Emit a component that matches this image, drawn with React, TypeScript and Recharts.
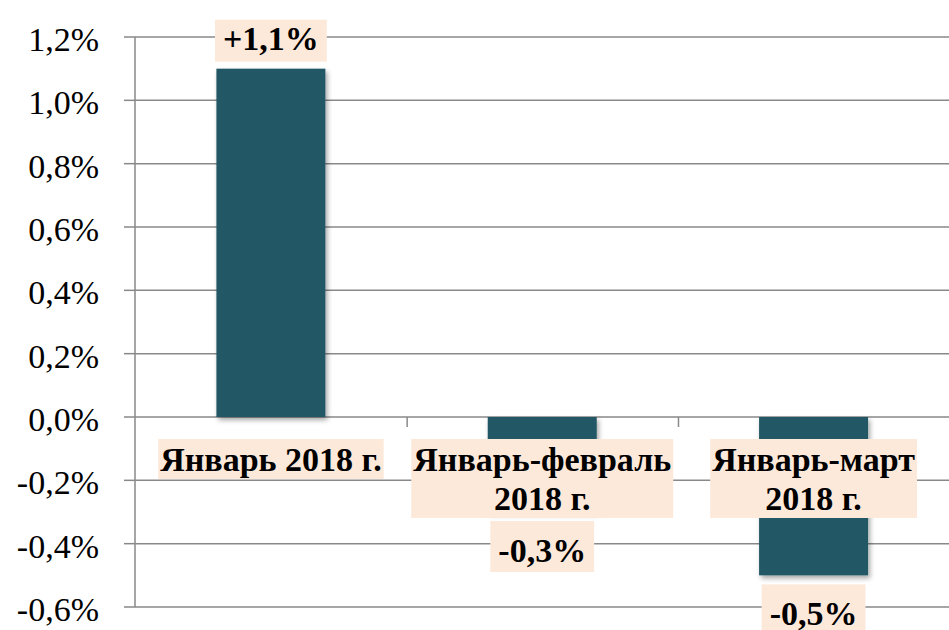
import React from 'react';
import { BarChart, Bar, XAxis, YAxis, CartesianGrid, LabelList } from 'recharts';

const categories = ['Январь 2018 г.', 'Январь-февраль 2018 г.', 'Январь-март 2018 г.'];
const categoryLines = [['Январь 2018 г.'], ['Январь-февраль', '2018 г.'], ['Январь-март', '2018 г.']];
const values = [1.1, -0.3, -0.5];
const valueLabels = ['+1,1%', '-0,3%', '-0,5%'];
const yTicks = [-0.6, -0.4, -0.2, 0, 0.2, 0.4, 0.6, 0.8, 1.0, 1.2];

const data = categories.map((name, i) => ({ name, value: values[i] }));

const FONT = "'Times New Roman', Times, 'Liberation Serif', Tinos, 'Nimbus Roman', 'Nimbus Roman No9 L', 'FreeSerif', 'Noto Serif', 'DejaVu Serif', 'Noto Serif CJK SC', 'Source Han Serif', serif";
const BOLD_SIZE = 34;
const TICK_SIZE = 34;
const BAR_COLOR = '#235966';
const BOX_COLOR = '#FDE9DA';
const GRID_COLOR = '#898989';
const GAP = 0.3;

let ctx: CanvasRenderingContext2D | null = null;
function measure(text: string, font: string): number {
  if (!ctx) ctx = document.createElement('canvas').getContext('2d');
  if (!ctx) return text.length * 18;
  ctx.font = font;
  return ctx.measureText(text).width;
}

const fmt = (v: number) => v.toFixed(1).replace('.', ',') + '%';

function BarShape(props: any) {
  const { x, y, width, height } = props;
  const top = Math.min(y, y + height);
  const h = Math.abs(height);
  return (
    <g>
      <defs>
        <filter id="barShadow" x="-20%" y="-20%" width="140%" height="140%">
          <feDropShadow dx="2" dy="3" stdDeviation="2.5" floodColor="#000" floodOpacity="0.35" />
        </filter>
      </defs>
      <rect x={x} y={top} width={width} height={h} fill={BAR_COLOR} filter="url(#barShadow)" />
    </g>
  );
}

function LabelContent(props: any) {
  const vb = props.viewBox && props.viewBox.width !== undefined ? props.viewBox : props;
  const { x, y, width, height } = vb;
  let index = props.index;
  if (index === undefined || index === null) index = values.indexOf(props.value);
  const v = values[index];
  const top = Math.min(y, y + height);
  const bottom = Math.max(y, y + height);
  const zero = v >= 0 ? bottom : top;
  const end = v >= 0 ? top : bottom;
  const cx = x + width / 2;
  const band = width / (1 - 2 * GAP);
  const boldFont = `bold ${BOLD_SIZE}px ${FONT}`;

  const lines = categoryLines[index];
  const lw = Math.max(...lines.map((l) => measure(l, boldFont))) + 4;
  const cTop = zero + 22;
  const lineH = 39;
  const cH = 32 + (lines.length - 1) * lineH + 8;

  const label = valueLabels[index];
  const vw = measure(label, boldFont) + 16;
  let vTop: number, vH: number, vBase: number;
  if (v >= 0) {
    vH = 42;
    vTop = end - 7 - vH;
    vBase = vTop + 30.5;
  } else {
    vH = 51;
    vTop = end + 9;
    vBase = vTop + 41;
  }

  return (
    <g>
      <line x1={cx + band / 2} x2={cx + band / 2} y1={zero} y2={zero + 10} stroke={GRID_COLOR} strokeWidth={1.5} />
      <rect x={cx - lw / 2} y={cTop} width={lw} height={cH} fill={BOX_COLOR} />
      {lines.map((l, i) => (
        <text key={i} x={cx} y={cTop + 32 + i * lineH} textAnchor="middle" style={{ fontFamily: FONT, fontWeight: 'bold', fontSize: BOLD_SIZE }} fill="#000">
          {l}
        </text>
      ))}
      <rect x={cx - vw / 2} y={vTop} width={vw} height={vH} fill={BOX_COLOR} />
      <text x={cx} y={vBase} textAnchor="middle" style={{ fontFamily: FONT, fontWeight: 'bold', fontSize: BOLD_SIZE }} fill="#000">
        {label}
      </text>
    </g>
  );
}

export default function App() {
  return (
    <div style={{ position: 'absolute', left: 0, top: 0, width: 949, height: 630, background: '#fff' }}>
      <BarChart width={949} height={630} data={data} margin={{ top: 37, right: 0, bottom: 23, left: 0 }} barCategoryGap="30%">
        <CartesianGrid vertical={false} stroke={GRID_COLOR} strokeWidth={1.5} />
        <XAxis dataKey="name" hide />
        <YAxis
          type="number"
          domain={[-0.6, 1.2]}
          ticks={yTicks}
          interval={0}
          allowDataOverflow
          width={135}
          tickFormatter={fmt}
          tickSize={11}
          tickMargin={25}
          axisLine={{ stroke: GRID_COLOR, strokeWidth: 1.5 }}
          tickLine={{ stroke: GRID_COLOR, strokeWidth: 1.5 }}
          tick={{ fill: '#000', fontSize: TICK_SIZE, fontFamily: FONT, dy: 2, style: { fontFamily: FONT } }}
        />
        <Bar dataKey="value" isAnimationActive={false} shape={<BarShape />}>
          <LabelList dataKey="value" content={<LabelContent />} />
        </Bar>
      </BarChart>
    </div>
  );
}
